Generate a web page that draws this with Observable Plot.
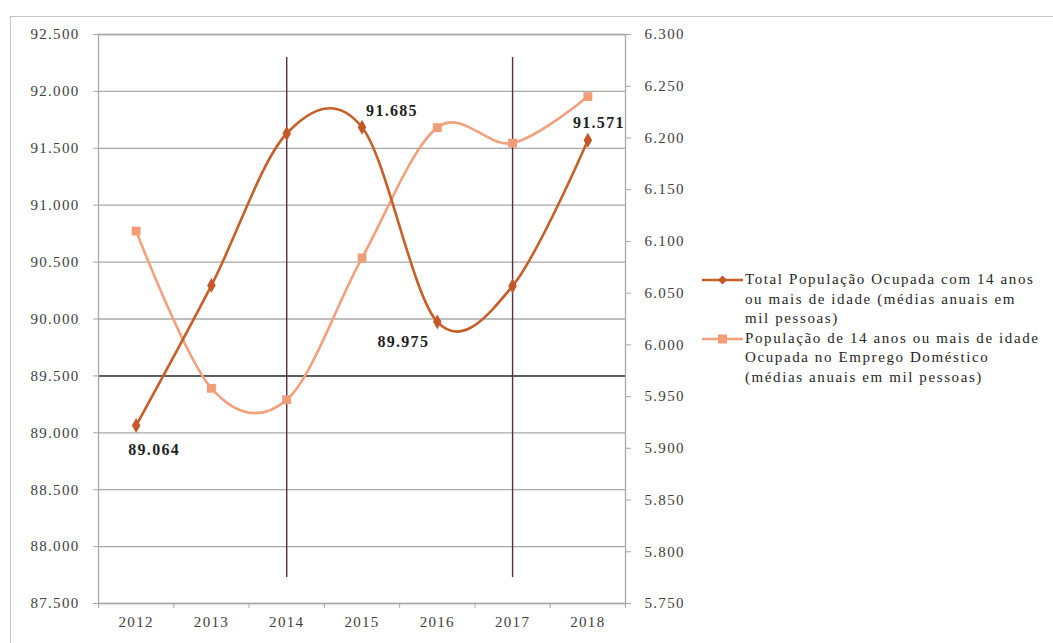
<!DOCTYPE html>
<html lang="pt-BR">
<head>
<meta charset="utf-8">
<script src="https://cdn.jsdelivr.net/npm/d3@7"></script>
<script src="https://cdn.jsdelivr.net/npm/@observablehq/plot@0.6"></script>
<style>
  html, body { margin: 0; padding: 0; background: #fff; }
  #wrap { position: relative; width: 1053px; height: 643px; overflow: hidden; }
  #border { position: absolute; left: 10px; top: 16px; width: 1100px; height: 700px;
            border-top: 1.5px solid #c4c4c4; border-left: 1.5px solid #c4c4c4; }
  #chart { position: absolute; left: 0; top: 0; }
  .chart text { letter-spacing: 1.3px; }
  #legend { position: absolute; left: 700px; top: 270px; font-family: "Liberation Serif", serif;
            font-size: 15px; line-height: 19.5px; color: #262626; letter-spacing: 1.6px; }
  .entry { display: flex; align-items: flex-start; }
  .entry svg { flex: none; margin-top: 0; }
</style>
</head>
<body>
<div id="wrap">
  <div id="border"></div>
  <div id="chart"></div>
  <div id="legend"></div>
</div>
<script>
// Annual averages, thousands of people
const years = [2012, 2013, 2014, 2015, 2016, 2017, 2018];
const totalOcupada = [89064, 90295, 91630, 91685, 89975, 90290, 91571];
const empregoDomestico = [6110, 5958, 5947, 6084, 6210, 6195, 6240];

// Axis ticks
const leftTicks = [87500, 88000, 88500, 89000, 89500, 90000, 90500, 91000, 91500, 92000, 92500];
const rightTicks = [5750, 5800, 5850, 5900, 5950, 6000, 6050, 6100, 6150, 6200, 6250, 6300];
const categoryEdges = [2011.5, 2012.5, 2013.5, 2014.5, 2015.5, 2016.5, 2017.5, 2018.5];
const markedYears = [2014, 2017];

const seriesNames = [
  ["Total População Ocupada com 14 anos", "ou mais de idade (médias anuais em", "mil pessoas)"],
  ["População de 14 anos ou mais de idade", "Ocupada no Emprego Doméstico", "(médias anuais em mil pessoas)"]
];

const darkColor = "#c65f28";
const lightColor = "#f2a17e";
const gridColor = "#a8a8a8";

const rows = years.map((year, i) => ({year, total: totalOcupada[i], domestic: empregoDomestico[i]}));

// secondary axis (domestic employment) is mapped onto the primary y range
const leftDomain = [leftTicks[0], leftTicks[leftTicks.length - 1]];
const rightDomain = [rightTicks[0], rightTicks[rightTicks.length - 1]];
const toLeft = d3.scaleLinear().domain(rightDomain).range(leftDomain);

const fmt = v => Math.round(v).toLocaleString("pt-BR");
const byYear = y => rows.filter(d => d.year === y);

const labelStyle = {fontWeight: "bold", fontSize: 16, fill: "#1e1e1e", text: d => fmt(d.total)};

const chart = Plot.plot({
  width: 1053,
  height: 643,
  marginLeft: 98,
  marginRight: 428,
  marginTop: 34,
  marginBottom: 40,
  className: "chart",
  style: {fontFamily: "Liberation Serif, serif", fontSize: "15px", background: "transparent", color: "#404040"},
  x: {domain: [categoryEdges[0], categoryEdges[categoryEdges.length - 1]], label: null},
  y: {domain: leftDomain, label: null},
  marks: [
    Plot.gridY(leftTicks, {stroke: gridColor, strokeOpacity: 1, strokeWidth: 1.3}),
    Plot.ruleY([89500], {stroke: "#3a3a3a", strokeWidth: 1.5}),
    Plot.frame({stroke: gridColor, strokeWidth: 1.3}),
    Plot.ruleX(markedYears, {x: d => d, stroke: "#55303f", strokeWidth: 1.4, insetTop: 23, insetBottom: 26}),
    Plot.axisY(leftTicks, {anchor: "left", label: null, tickSize: 5, tickPadding: 14, tickFormat: fmt, stroke: gridColor, fill: "#404040"}),
    Plot.axisY(rightTicks.map(toLeft), {anchor: "right", label: null, tickSize: 5, tickPadding: 14,
      tickFormat: d => fmt(toLeft.invert(d)), stroke: gridColor, fill: "#404040"}),
    Plot.axisX(years, {label: null, tickSize: 0, tickPadding: 13, tickFormat: d => String(d), fill: "#404040"}),
    Plot.axisX(categoryEdges, {label: null, tickSize: 5, tickFormat: () => "", stroke: gridColor}),
    Plot.line(rows, {x: "year", y: d => toLeft(d.domestic), curve: "cardinal", stroke: lightColor, strokeWidth: 2.6}),
    Plot.dot(rows, {x: "year", y: d => toLeft(d.domestic), symbol: "square", r: 5, fill: "#f09d78"}),
    Plot.line(rows, {x: "year", y: "total", curve: "cardinal", stroke: darkColor, strokeWidth: 2.6}),
    Plot.dot(rows, {x: "year", y: "total", symbol: "diamond", r: 4.5, fill: "#c4582a"}),
    Plot.text(byYear(2012), {x: "year", y: "total", dx: 18, dy: 24, ...labelStyle}),
    Plot.text(byYear(2015), {x: "year", y: "total", dx: 30, dy: -16, ...labelStyle}),
    Plot.text(byYear(2016), {x: "year", y: "total", dx: -34, dy: 20, ...labelStyle}),
    Plot.text(byYear(2018), {x: "year", y: "total", dx: 11, dy: -17, ...labelStyle})
  ]
});
document.getElementById("chart").append(chart);

// legend
const legend = d3.select("#legend");
const swatches = [
  {color: darkColor, marker: "diamond"},
  {color: lightColor, marker: "square"}
];
seriesNames.forEach((lines, i) => {
  const entry = legend.append("div").attr("class", "entry");
  const svg = entry.append("svg").attr("width", 45).attr("height", 20);
  svg.append("line").attr("x1", 2).attr("x2", 43).attr("y1", 10).attr("y2", 10)
    .attr("stroke", swatches[i].color).attr("stroke-width", 2.6);
  if (swatches[i].marker === "diamond") {
    svg.append("path").attr("d", "M22.5,5.5L27,10L22.5,14.5L18,10Z").attr("fill", "#c4582a");
  } else {
    svg.append("rect").attr("x", 18).attr("y", 5.5).attr("width", 9).attr("height", 9).attr("fill", "#f09d78");
  }
  entry.append("div").html(lines.join("<br>"));
});
</script>
</body>
</html>
